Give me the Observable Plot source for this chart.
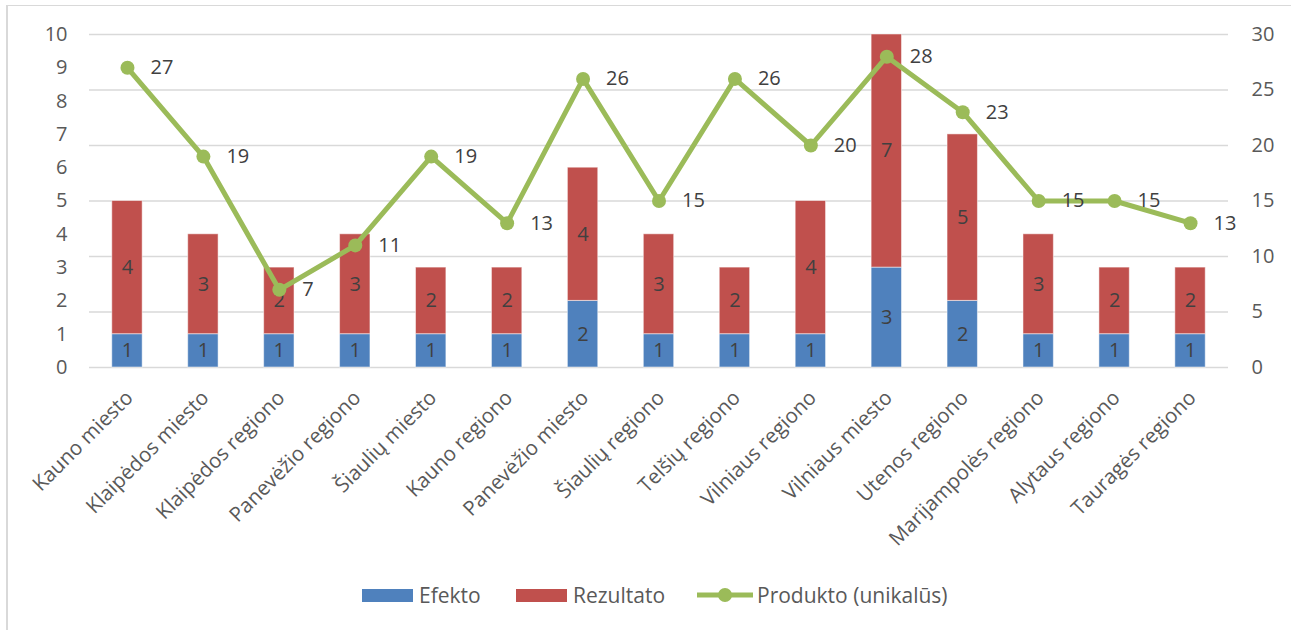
<!DOCTYPE html>
<html>
<head>
<meta charset="utf-8">
<script src="https://cdn.jsdelivr.net/npm/d3@7"></script>
<script src="https://cdn.jsdelivr.net/npm/@observablehq/plot@0.6"></script>
<style>
  body { margin: 0; background: #fff; }
  #wrap { position: relative; width: 1291px; height: 630px; overflow: hidden; font-family: "Open Sans", Lato, sans-serif; }
  #frame { position: absolute; left: 6px; top: 5px; width: 1300px; height: 640px; border-left: 2px solid #d9d9d9; border-top: 1px solid #d9d9d9; }
  #chart { position: absolute; left: 0; top: 0; }
  #legend { position: absolute; left: 0; top: 582px; width: 1291px; height: 26px; }
  .item { position: absolute; top: 0; display: flex; align-items: center; height: 26px; font-size: 21px; color: #595959; }
  .sw { display: inline-block; width: 51px; height: 13px; margin-right: 6px; }
</style>
</head>
<body>
<div id="wrap">
  <div id="frame"></div>
  <div id="chart"></div>
  <div id="legend"></div>
</div>
<script>
const categories = ["Kauno miesto","Klaipėdos miesto","Klaipėdos regiono","Panevėžio regiono","Šiaulių miesto","Kauno regiono","Panevėžio miesto","Šiaulių regiono","Telšių regiono","Vilniaus regiono","Vilniaus miesto","Utenos regiono","Marijampolės regiono","Alytaus regiono","Tauragės regiono"];
const efekto = [1,1,1,1,1,1,2,1,1,1,3,2,1,1,1];
const rezultato = [4,3,2,3,2,2,4,3,2,4,7,5,3,2,2];
const produkto = [27,19,7,11,19,13,26,15,26,20,28,23,15,15,13];
const leftTicks = [0,1,2,3,4,5,6,7,8,9,10];
const rightTicks = [0,5,10,15,20,25,30];
const seriesNames = ["Efekto","Rezultato","Produkto (unikalūs)"];
const colors = ["#4F81BD","#C0504D","#9BBB59"];

const ratio = 10 / 30; // right axis (0–30) mapped onto left axis (0–10)

const bars = [];
categories.forEach((c, i) => {
  bars.push({cat: c, series: seriesNames[0], y1: 0, y2: efekto[i], v: efekto[i]});
  bars.push({cat: c, series: seriesNames[1], y1: efekto[i], y2: efekto[i] + rezultato[i], v: rezultato[i]});
});
const line = categories.map((c, i) => ({cat: c, v: produkto[i], y: produkto[i] * ratio}));

const font = "'Open Sans', Lato, sans-serif";

const chart = Plot.plot({
  width: 1291,
  height: 572,
  marginLeft: 89,
  marginRight: 63,
  marginTop: 34,
  marginBottom: 205,
  style: {fontFamily: font, fontSize: "20px", color: "#595959", background: "transparent"},
  x: {domain: categories, paddingInner: 0.6, paddingOuter: 0.3, align: 0.5, round: false},
  y: {domain: [0, 10]},
  color: {domain: seriesNames, range: colors},
  marks: [
    Plot.gridY(rightTicks.map(d => d * ratio), {stroke: "#d9d9d9", strokeOpacity: 1, strokeWidth: 1.5}),
    Plot.axisY(leftTicks, {anchor: "left", tickSize: 0, tickPadding: 22, fontSize: 20, fill: "#595959", label: null}),
    Plot.axisY(rightTicks.map(d => d * ratio), {anchor: "right", tickSize: 0, tickPadding: 23, fontSize: 20, fill: "#595959", textAnchor: "start", tickFormat: d => Math.round(d * 3), label: null}),
    Plot.axisX({tickSize: 0, tickRotate: -45, tickPadding: 14, dy: 13, dx: 2, fontSize: 20.5, fill: "#595959", label: null}),
    Plot.barY(bars, {x: "cat", y1: "y1", y2: "y2", fill: "series", stroke: "white", strokeWidth: 1, strokeOpacity: 0.5}),
    Plot.text(bars, {x: "cat", y: d => (d.y1 + d.y2) / 2, text: "v", fill: "#404040", fontSize: 20}),
    Plot.line(line, {x: "cat", y: "y", stroke: colors[2], strokeWidth: 5, strokeLinejoin: "round"}),
    Plot.dot(line, {x: "cat", y: "y", r: 7, fill: colors[2]}),
    Plot.text(line, {x: "cat", y: "y", text: "v", dx: 23, textAnchor: "start", fill: "#404040", fontSize: 20})
  ]
});
document.getElementById("chart").appendChild(chart);

// Legend
const legend = document.getElementById("legend");
const legendItems = [
  {name: seriesNames[0], color: colors[0], left: 362, type: "rect"},
  {name: seriesNames[1], color: colors[1], left: 516, type: "rect"},
  {name: seriesNames[2], color: colors[2], left: 697, type: "line"}
];
legendItems.forEach(it => {
  const el = document.createElement("div");
  el.className = "item";
  el.style.left = it.left + "px";
  if (it.type === "rect") {
    el.innerHTML = `<span class="sw" style="background:${it.color}"></span><span>${it.name}</span>`;
  } else {
    el.innerHTML = `<svg width="56" height="16" style="margin-right:4px"><line x1="0" y1="8" x2="56" y2="8" stroke="${it.color}" stroke-width="5"/><circle cx="28" cy="8" r="7" fill="${it.color}"/></svg><span>${it.name}</span>`;
  }
  legend.appendChild(el);
});
</script>
</body>
</html>
